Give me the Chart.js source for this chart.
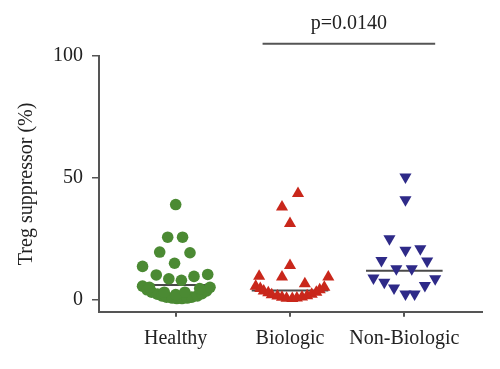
<!DOCTYPE html>
<html>
<head>
<meta charset="utf-8">
<script src="https://cdn.jsdelivr.net/npm/chart.js@4"></script>
<style>
    body { margin: 0; background: #fff; }
    #zone { width: 500px; height: 369px; }
</style>
</head>
<body>
<div id="zone"><canvas id="tregChart" width="500" height="369"></canvas></div>
<script>
const categories = ['Healthy', 'Biologic', 'Non-Biologic'];
const ticksY = [0, 50, 100];

// Healthy : position x (jitter autour de 1) et valeur
const sainX = [1.00, 0.93, 1.06, 0.86, 1.125, 0.99, 0.71, 0.83, 0.94, 1.05, 1.16, 1.28,
    0.71, 0.75, 0.79, 0.84, 0.88, 0.92, 0.97, 1.01, 1.055, 1.10, 1.14, 1.19, 1.23, 1.27, 1.30,
    0.77, 0.90, 1.00, 1.08, 1.21];
const sainY = [39, 25.6, 25.6, 19.5, 19.2, 14.9, 13.6, 10.1, 8.5, 7.9, 9.5, 10.3,
    5.5, 4, 3, 2.2, 1.5, 1, 0.6, 0.4, 0.4, 0.6, 1, 1.5, 2.4, 3.5, 5,
    5, 3, 2, 3, 4.5];

const biologiqueX = [2.07, 1.93, 2.00, 2.00, 1.73, 1.93, 2.13, 2.335,
    1.70, 1.74, 1.77, 1.81, 1.84, 1.89, 1.93, 1.97, 2.02, 2.06, 2.105, 2.15, 2.19, 2.23, 2.26, 2.30];
const biologiqueY = [43.5, 38, 31.2, 14, 9.6, 9.2, 6.5, 9.2,
    5.5, 4.5, 3.5, 2.8, 2, 1.4, 0.9, 0.5, 0.4, 0.6, 1, 1.5, 2.2, 3, 4, 5];

const nonBiologiqueX = [3.01, 3.01, 2.87, 3.01, 3.14, 2.80, 3.20, 2.93, 3.065, 2.73, 2.825, 2.91, 3.01, 3.09, 3.18, 3.27];
const nonBiologiqueY = [50.3, 41, 25, 20.2, 20.9, 16, 15.8, 12.6, 12.6, 8.8, 7.1, 4.7, 2.3, 2.3, 5.8, 8.5];

const medianes = [6.0, 3.7, 11.8];
const demiLargeurMediane = 0.335;

const pValeur = 'p=0.0140';
const crochetX = [1.76, 3.27];
const crochetY = 105;

const police = '"Liberation Serif", "DejaVu Serif", serif';

function points(xs, ys) {
    return xs.map((x, i) => ({ x: x, y: ys[i] }));
}

function ligneMediane(i) {
    const centre = i + 1;
    return {
        data: [{ x: centre - demiLargeurMediane, y: medianes[i] }, { x: centre + demiLargeurMediane, y: medianes[i] }],
        showLine: true,
        borderColor: '#4a4a4a',
        borderWidth: 2,
        pointRadius: 0,
        clip: false
    };
}

const texteP = {
    id: 'texteP',
    afterDraw(chart) {
        const ctx = chart.ctx;
        const x = chart.scales.x.getPixelForValue((crochetX[0] + crochetX[1]) / 2);
        ctx.save();
        ctx.font = '20px ' + police;
        ctx.fillStyle = '#222';
        ctx.textAlign = 'center';
        ctx.textBaseline = 'alphabetic';
        ctx.fillText(pValeur, x, 29);
        ctx.restore();
    }
};

new Chart(document.getElementById('tregChart'), {
    type: 'scatter',
    data: {
        datasets: [
            {
                data: points(sainX, sainY),
                backgroundColor: '#4b8a33',
                borderWidth: 0,
                pointRadius: 5.8,
                pointStyle: 'circle',
                clip: false
            },
            {
                data: points(biologiqueX, biologiqueY),
                backgroundColor: '#c9271b',
                borderWidth: 0,
                pointRadius: 7,
                pointStyle: 'triangle',
                clip: false
            },
            {
                data: points(nonBiologiqueX, nonBiologiqueY),
                backgroundColor: '#2e2a88',
                borderWidth: 0,
                pointRadius: 7,
                pointStyle: 'triangle',
                rotation: 180,
                clip: false
            },
            ligneMediane(0),
            ligneMediane(1),
            ligneMediane(2),
            {
                data: [{ x: crochetX[0], y: crochetY }, { x: crochetX[1], y: crochetY }],
                showLine: true,
                borderColor: '#555',
                borderWidth: 2,
                pointRadius: 0,
                clip: false
            }
        ]
    },
    options: {
        responsive: false,
        animation: false,
        layout: { padding: { top: 56, right: 18.3, left: 0, bottom: 0 } },
        plugins: {
            legend: { display: false },
            tooltip: { enabled: false }
        },
        scales: {
            x: {
                type: 'linear',
                min: 0.329,
                max: 3.677,
                afterBuildTicks: scale => { scale.ticks = [1, 2, 3].map(v => ({ value: v })); },
                afterFit: scale => { scale.height = 57.3; },
                ticks: {
                    callback: v => categories[v - 1],
                    color: '#222',
                    padding: 10,
                    maxRotation: 0,
                    font: { family: police, size: 20 }
                },
                grid: { drawOnChartArea: false, drawTicks: true, tickLength: 5, color: '#555', lineWidth: 2 },
                border: { color: '#555', width: 2 }
            },
            y: {
                min: -5,
                max: 100,
                afterBuildTicks: scale => { scale.ticks = ticksY.map(v => ({ value: v })); },
                afterFit: scale => { scale.width = 99; },
                ticks: {
                    color: '#222',
                    padding: 9,
                    font: { family: police, size: 20 }
                },
                grid: { drawOnChartArea: false, drawTicks: true, tickLength: 7, color: '#555', lineWidth: 1.5 },
                border: { color: '#555', width: 2 },
                title: {
                    display: true,
                    text: 'Treg suppressor (%)',
                    color: '#222',
                    padding: { top: 15, bottom: 0 },
                    font: { family: police, size: 20 }
                }
            }
        }
    },
    plugins: [texteP]
});
</script>
</body>
</html>
